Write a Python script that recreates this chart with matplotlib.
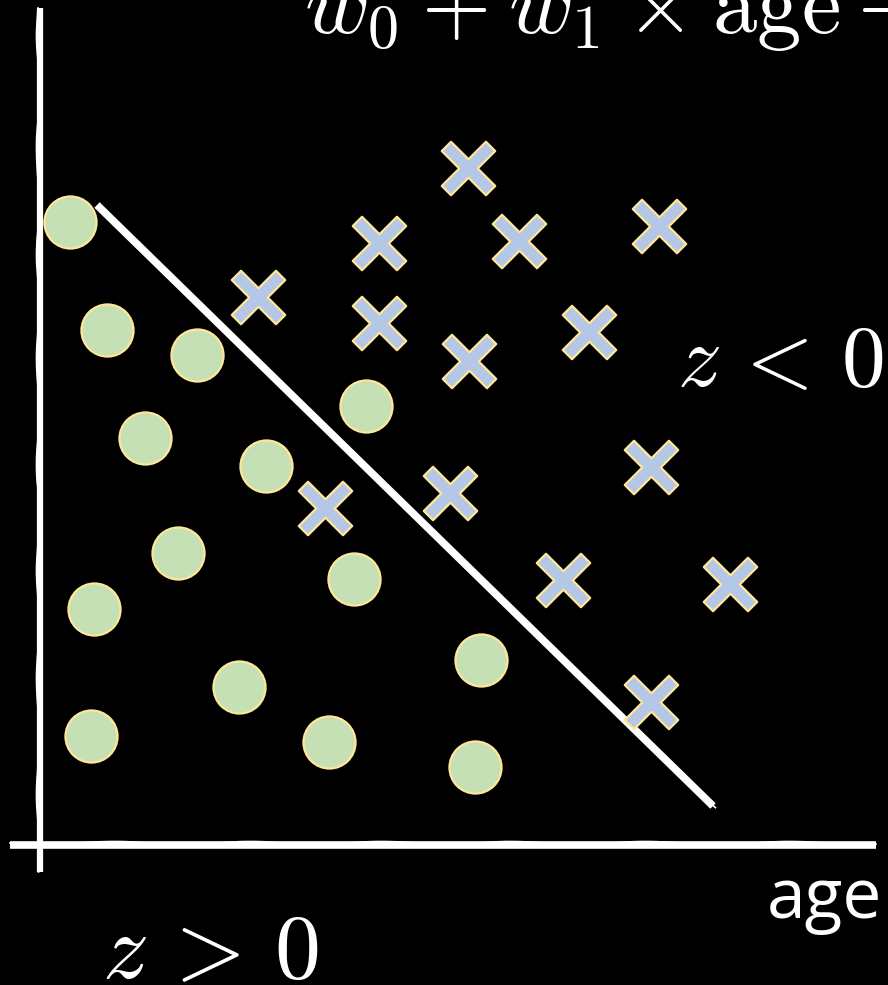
import numpy as np
import matplotlib
matplotlib.use('Agg')
import matplotlib.pyplot as plt
from matplotlib.path import Path

plt.rcParams['mathtext.fontset'] = 'cm'

# ---- data (pixel-space coordinates of the sketch) ----
circle_x = [70, 107, 197, 145, 366, 266, 178, 354, 94, 481, 239, 91, 329, 475]
circle_y = [222, 330, 355, 438, 406, 466, 553, 579, 609, 660, 687, 736, 742, 767]
cross_x = [468, 379, 519, 659, 258, 379, 589, 469, 651, 450, 325, 563, 730, 651]
cross_y = [168, 243, 241, 226, 297, 323, 332, 361, 467, 493, 508, 580, 584, 702]
boundary_x = [97, 713]
boundary_y = [205, 806]
yaxis_x = [40, 40]
yaxis_y = [8, 872]
xaxis_x = [10, 876]
xaxis_y = [845, 845]

formula_text = r'$w_0 \:+\: w_1 \:\times\: \mathrm{age} \:+$'
upper_text = r'$z \,<\, 0$'
lower_text = r'$z \,>\, 0$'
xlabel_text = 'age'

# ---- figure ----
fig = plt.figure(figsize=(8.88, 9.85), dpi=100, facecolor='black')
ax = fig.add_axes([0, 0, 1, 1])
ax.set_facecolor('black')
ax.set_xlim(0, 888)
ax.set_ylim(985, 0)
ax.axis('off')

# cross marker path (rotated plus sign with square ends)
w, L = 6.5, 31.0
plus = np.array([(w, w), (w, L), (-w, L), (-w, w), (-L, w), (-L, -w),
                 (-w, -w), (-w, -L), (w, -L), (w, -w), (L, -w), (L, w), (w, w)])
c, s = np.cos(np.pi / 4), np.sin(np.pi / 4)
rot = plus @ np.array([[c, s], [-s, c]])
codes = [Path.MOVETO] + [Path.LINETO] * (len(rot) - 2) + [Path.CLOSEPOLY]
cross_path = Path(rot, codes)

# axes (sketchy double strokes)
ax.plot(yaxis_x, yaxis_y, color='white', lw=4.5, solid_capstyle='butt', zorder=2)
l1, = ax.plot(np.array(yaxis_x) - 2, yaxis_y, color='white', lw=1.2, zorder=2)
l1.set_sketch_params(1.5, 120.0, 2.0)
ax.plot(xaxis_x, xaxis_y, color='white', lw=5.5, solid_capstyle='butt', zorder=2)
l2, = ax.plot(xaxis_x, np.array(xaxis_y) - 2.5, color='white', lw=1.2, zorder=2)
l2.set_sketch_params(1.5, 150.0, 2.0)

# decision boundary
ax.plot(boundary_x, boundary_y, color='white', lw=5.5, solid_capstyle='butt', zorder=2)
l3, = ax.plot(np.array(boundary_x) + 3, np.array(boundary_y) + 1, color='white',
              lw=1.2, zorder=2)
l3.set_sketch_params(1.0, 150.0, 2.0)

# points
ax.plot(circle_x, circle_y, linestyle='none', marker='o', markersize=37.5,
        markerfacecolor='#C5E0B4', markeredgecolor='#FFE699', markeredgewidth=1.6,
        zorder=3)
ax.plot(cross_x, cross_y, linestyle='none', marker=cross_path, markersize=38.5,
        markerfacecolor='#B4C7E7', markeredgecolor='#FFE699', markeredgewidth=1.6,
        zorder=3)

# text
ax.text(304, 33, formula_text, color='white', fontsize=64, ha='left',
        va='baseline', zorder=4)
ax.text(677, 386, upper_text, color='white', fontsize=63, ha='left',
        va='baseline', zorder=4)
ax.text(102, 978, lower_text, color='white', fontsize=66, ha='left',
        va='baseline', zorder=4)
ax.text(767, 918, xlabel_text, color='white', fontsize=50, ha='left',
        va='baseline', family=['Open Sans', 'DejaVu Sans'], zorder=4)

fig.savefig('out.png', dpi=100, facecolor='black')
